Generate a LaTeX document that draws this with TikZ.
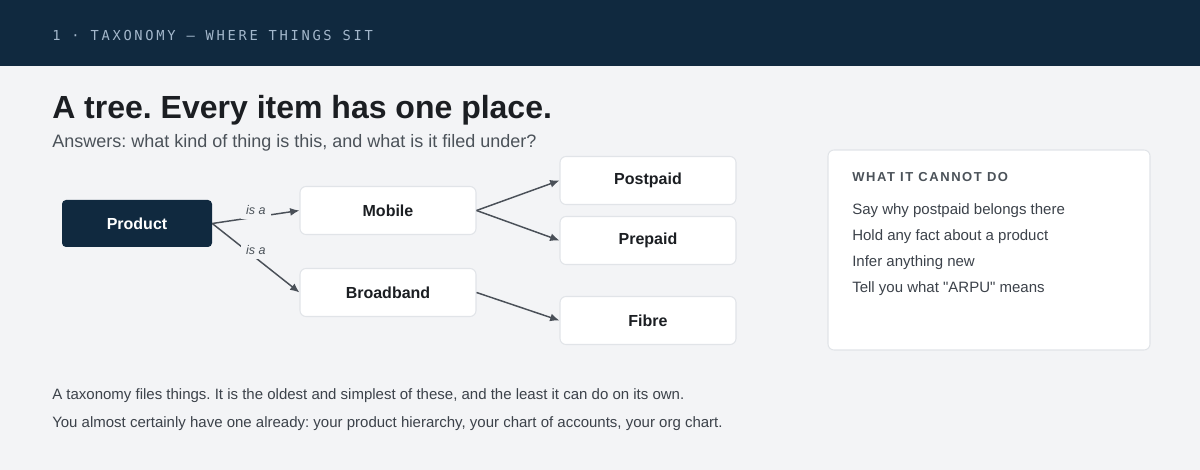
\documentclass[tikz,border=0pt]{standalone}
\usepackage{fontspec}
\usepackage{xcolor}
\usepackage{tikz}
\usetikzlibrary{arrows.meta}
\setmainfont{Liberation Sans}
\newfontfamily\kickerfont[LetterSpace=19.5]{DejaVu Sans Mono}
\newfontfamily\capsfont[LetterSpace=12]{Liberation Sans}
\newfontfamily\straightfont[Ligatures=ResetAll]{Liberation Sans}
\newcommand\dq{{\straightfont"}}
\definecolor{navy}{HTML}{10293F}
\definecolor{paper}{HTML}{F3F4F6}
\definecolor{kicker}{HTML}{A3B7CB}
\definecolor{ink}{HTML}{1B1E22}
\definecolor{muted}{HTML}{4B5259}
\definecolor{edge}{HTML}{E1E4E8}
\definecolor{wire}{HTML}{4A5058}
\definecolor{body}{HTML}{3C424A}
\frenchspacing
\begin{document}
\begin{tikzpicture}[x=0.75pt,y=-0.75pt]
\tikzstyle{every node}+=[inner sep=0pt]
\tikzstyle{root}=[fill=navy, rounded corners=3pt, minimum width=112.5pt, minimum height=35.25pt, text=white, font=\bfseries\fontsize{12}{14}\selectfont]
\tikzstyle{leaf}=[draw=edge, line width=0.8pt, fill=white, rounded corners=4.5pt, minimum width=132pt, minimum height=36pt, text=ink, font=\bfseries\fontsize{12}{14}\selectfont]
\tikzstyle{link}=[draw=wire, line width=1.1pt, -{Latex[length=7pt,width=6pt]}]
\tikzstyle{isa}=[fill=paper, inner xsep=4pt, inner ysep=3pt, text=muted, font=\itshape\fontsize{9.4}{11}\selectfont]
\tikzstyle{txt}=[anchor=base west]
\useasboundingbox (0,0) rectangle (1200,470);
\fill [paper] (0,0) rectangle (1200,470);
\fill [navy] (0,0) rectangle (1200,66);
\node [txt, text=kicker, font=\kickerfont\fontsize{10.3}{12}\selectfont] (kick) at (52,41) {1 · TAXONOMY — WHERE THINGS SIT};
\node [txt, text=ink, font=\bfseries\fontsize{24}{28}\selectfont] (title) at (52,118.5) {A tree. Every item has one place.};
\node [txt, text=muted, font=\fontsize{13.5}{16}\selectfont] (sub) at (52,148) {Answers: what kind of thing is this, and what is it filed under?};
\node [root] (product) at (137,223.5) {Product};
\node [leaf] (mobile) at (388,210.5) {Mobile};
\node [leaf] (broadband) at (388,292.5) {Broadband};
\node [leaf] (postpaid) at (648,180.5) {Postpaid};
\node [leaf] (prepaid) at (648,240.5) {Prepaid};
\node [leaf] (fibre) at (648,320.5) {Fibre};
\draw [link] (product.east) -- node [isa, yshift=5.25pt] {is a} (mobile.west);
\draw [link] (product.east) -- node [isa, yshift=6pt] {is a} (broadband.west);
\draw [link] (mobile.east) -- (postpaid.west);
\draw [link] (mobile.east) -- (prepaid.west);
\draw [link] (broadband.east) -- (fibre.west);
\node [draw=edge, line width=0.8pt, fill=white, rounded corners=4.5pt, minimum width=241.5pt, minimum height=150pt] (panel) at (989,250) {};
\node [txt, text=muted, font=\capsfont\bfseries\fontsize{9.75}{12}\selectfont] (cannot) at (852,182) {WHAT IT CANNOT DO};
\node [txt, text=body, font=\fontsize{11.25}{13}\selectfont] (why) at (852,215) {Say why postpaid belongs there};
\node [txt, text=body, font=\fontsize{11.25}{13}\selectfont] (fact) at (852,241) {Hold any fact about a product};
\node [txt, text=body, font=\fontsize{11.25}{13}\selectfont] (infer) at (852,267) {Infer anything new};
\node [txt, text=body, font=\fontsize{11.25}{13}\selectfont] (arpu) at (852,293) {Tell you what \dq ARPU\dq{} means};
\node [txt, text=body, font=\fontsize{11.25}{13}\selectfont] (foot) at (52,399) {A taxonomy files things. It is the oldest and simplest of these, and the least it can do on its own.};
\node [txt, text=body, font=\fontsize{11.25}{13}\selectfont] (foottwo) at (52,427) {You almost certainly have one already: your product hierarchy, your chart of accounts, your org chart.};
\end{tikzpicture}
\end{document}
